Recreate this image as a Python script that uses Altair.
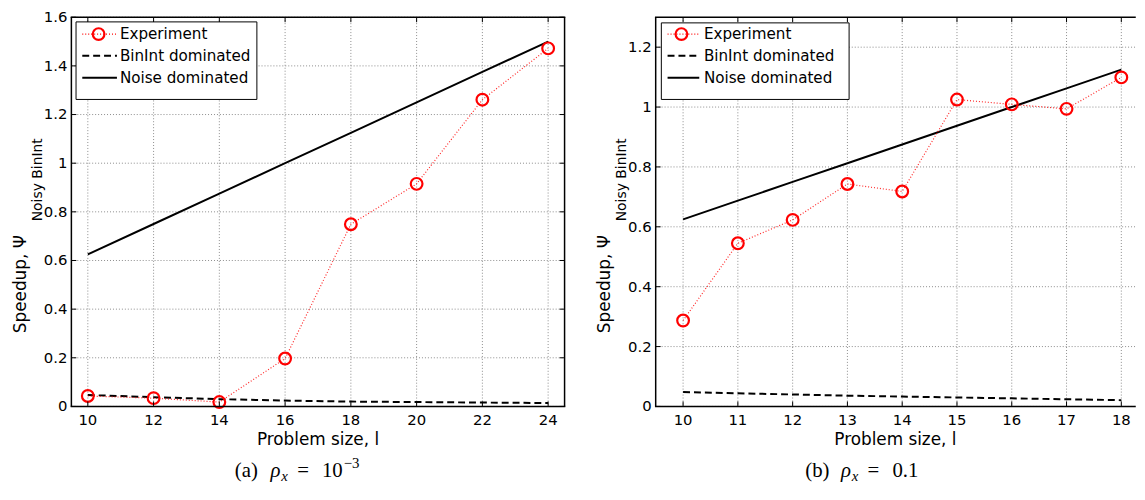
import altair as alt
import pandas as pd

FONT = "DejaVu Sans"
SERIF = "Liberation Serif"

# ---------------- data: panel (a) rho_x = 1e-3 ----------------
a_l = [10, 12, 14, 16, 18, 20, 22, 24]
a_exp = [0.043, 0.034, 0.018, 0.197, 0.749, 0.915, 1.261, 1.472]
a_binint = [0.047, 0.038, 0.030, 0.024, 0.020, 0.018, 0.016, 0.014]
a_noise = [0.625, 0.75, 0.875, 1.0, 1.125, 1.25, 1.375, 1.5]
a_xticks = [10, 12, 14, 16, 18, 20, 22, 24]
a_yticks = [0, 0.2, 0.4, 0.6, 0.8, 1.0, 1.2, 1.4, 1.6]

# ---------------- data: panel (b) rho_x = 0.1 ----------------
b_l = [10, 11, 12, 13, 14, 15, 16, 17, 18]
b_exp = [0.287, 0.545, 0.623, 0.743, 0.718, 1.025, 1.009, 0.994, 1.099]
b_binint = [0.048, 0.044, 0.040, 0.036, 0.033, 0.030, 0.027, 0.024, 0.021]
b_noise = [0.625, 0.6875, 0.75, 0.8125, 0.875, 0.9375, 1.0, 1.0625, 1.125]
b_xticks = [10, 11, 12, 13, 14, 15, 16, 17, 18]
b_yticks = [0, 0.2, 0.4, 0.6, 0.8, 1.0, 1.2]

legend_labels = ["Experiment", "BinInt dominated", "Noise dominated"]
x_title = "Problem size, l"
y_title_main = "Speedup, \u03a8"
y_title_sub = "Noisy BinInt"

dummy = pd.DataFrame({"d": [0]})
GRID_KW = dict(color="#8c8c8c", strokeWidth=1, strokeDash=[1, 2])


def txt(x, y, s, **kw):
    opts = dict(align="left", baseline="alphabetic", color="black")
    opts.update(kw)
    return alt.Chart(dummy).mark_text(**opts).encode(
        x=alt.value(x), y=alt.value(y), text=alt.value(s))


def hrule(x0, x1, y, **kw):
    return alt.Chart(dummy).mark_rule(**kw).encode(
        x=alt.value(x0), x2=alt.value(x1), y=alt.value(y))


def vrule(x, y0, y1, **kw):
    return alt.Chart(dummy).mark_rule(**kw).encode(
        x=alt.value(x), y=alt.value(y0), y2=alt.value(y1))


def panel(l, exp, binint, noise, xdom, ydom, xticks, yticks, W, H,
          leg, cap, right_border):
    df = pd.DataFrame({"l": l, "exp": exp, "binint": binint, "noise": noise})
    xs = alt.Scale(domain=xdom, nice=False, zero=False)
    ys = alt.Scale(domain=ydom, nice=False, zero=False)
    xt = pd.DataFrame({"t": xticks})
    yt = pd.DataFrame({"t": yticks})

    X = lambda f: alt.X(f, scale=xs, axis=None)
    Y = lambda f: alt.Y(f, scale=ys, axis=None)

    layers = []
    # dotted grid
    layers.append(alt.Chart(xt).mark_rule(**GRID_KW).encode(
        x=X("t:Q"), y=alt.value(0), y2=alt.value(H)))
    layers.append(alt.Chart(yt).mark_rule(**GRID_KW).encode(
        y=Y("t:Q"), x=alt.value(0), x2=alt.value(W)))

    # tick labels
    layers.append(alt.Chart(xt).mark_text(font=FONT, fontSize=15, color="black",
                                          align="center", baseline="top").encode(
        x=X("t:Q"), y=alt.value(H + 7), text=alt.Text("t:Q", format="~g")))
    layers.append(alt.Chart(yt).mark_text(font=FONT, fontSize=15, color="black",
                                          align="right", baseline="middle").encode(
        y=Y("t:Q"), x=alt.value(-4), text=alt.Text("t:Q", format="~g")))

    # series
    layers.append(alt.Chart(df).mark_line(color="black", strokeWidth=2).encode(
        x=X("l:Q"), y=Y("noise:Q")))
    layers.append(alt.Chart(df).mark_line(color="black", strokeWidth=2,
                                          strokeDash=[7, 4]).encode(
        x=X("l:Q"), y=Y("binint:Q")))
    layers.append(alt.Chart(df).mark_line(color="#ff0000", strokeWidth=1.2,
                                          strokeDash=[1, 2], opacity=0.85).encode(
        x=X("l:Q"), y=Y("exp:Q")))
    layers.append(alt.Chart(df).mark_point(shape="circle", filled=False,
                                           color="#ff0000", strokeWidth=2.2,
                                           size=140, opacity=1).encode(
        x=X("l:Q"), y=Y("exp:Q")))

    # inward ticks
    tick_kw = dict(color="black", strokeWidth=1)
    layers.append(alt.Chart(xt).mark_rule(**tick_kw).encode(
        x=X("t:Q"), y=alt.value(H), y2=alt.value(H - 5)))
    layers.append(alt.Chart(xt).mark_rule(**tick_kw).encode(
        x=X("t:Q"), y=alt.value(0), y2=alt.value(5)))
    layers.append(alt.Chart(yt).mark_rule(**tick_kw).encode(
        y=Y("t:Q"), x=alt.value(0), x2=alt.value(5)))
    if right_border:
        layers.append(alt.Chart(yt).mark_rule(**tick_kw).encode(
            y=Y("t:Q"), x=alt.value(W), x2=alt.value(W - 5)))

    # frame
    fr = dict(color="black", strokeWidth=1.5)
    layers.append(hrule(-0.75, W + 0.75, H, **fr))
    layers.append(hrule(-0.75, W + 0.75, 0, **fr))
    layers.append(vrule(0, 0, H, **fr))
    if right_border:
        layers.append(vrule(W, 0, H, **fr))

    # legend box
    bx0, bx1, by0, by1, lx0, lx1, cx, tx = leg
    ey = [17, 39, 61]
    layers.append(alt.Chart(dummy).mark_rect(fill="white", stroke="black",
                                             strokeWidth=1).encode(
        x=alt.value(bx0), x2=alt.value(bx1), y=alt.value(by0), y2=alt.value(by1)))
    layers.append(hrule(lx0, lx1, ey[0], color="#ff0000", strokeWidth=1.2,
                        strokeDash=[1, 2]))
    layers.append(alt.Chart(dummy).mark_point(shape="circle", filled=False,
                                              color="#ff0000", strokeWidth=2.2,
                                              size=140, opacity=1).encode(
        x=alt.value(cx), y=alt.value(ey[0])))
    layers.append(hrule(lx0, lx1, ey[1], color="black", strokeWidth=2,
                        strokeDash=[7, 4]))
    layers.append(hrule(lx0, lx1, ey[2], color="black", strokeWidth=2))
    for lab, yy in zip(legend_labels, ey):
        layers.append(txt(tx, yy, lab, baseline="middle", font=FONT, fontSize=15.3))

    # axis titles
    layers.append(txt(W / 2, H + 26, x_title, align="center", baseline="top",
                      font=FONT, fontSize=17))
    layers.append(txt(-46, 319, y_title_main, angle=270, font=FONT, fontSize=17))
    layers.append(txt(-30, 206, y_title_sub, angle=270, font=FONT, fontSize=14))

    # caption
    for (dx, dy, s, size, style) in cap:
        kw = dict(font=SERIF, fontSize=size)
        if style:
            kw["fontStyle"] = style
        layers.append(txt(dx, 464 + dy, s, **kw))

    return alt.layer(*layers).properties(width=W, height=H)


H = 393
cap_a_x0 = 165
cap_a = [
    (cap_a_x0, 0, "(a)", 21, None),
    (cap_a_x0 + 36, 0, "\u03c1", 21, "italic"),
    (cap_a_x0 + 47, 4, "x", 15, "italic"),
    (cap_a_x0 + 63, 0, "=", 21, None),
    (cap_a_x0 + 88, 0, "10", 21, None),
    (cap_a_x0 + 110, -9, "\u22123", 15, None),
]
cap_b_x0 = 151
cap_b = [
    (cap_b_x0, 0, "(b)", 21, None),
    (cap_b_x0 + 36, 0, "\u03c1", 21, "italic"),
    (cap_b_x0 + 47, 4, "x", 15, "italic"),
    (cap_b_x0 + 63, 0, "=", 21, None),
    (cap_b_x0 + 88, 0, "0.1", 21, None),
]

left = panel(a_l, a_exp, a_binint, a_noise, [9.5, 24.5], [0, 1.6],
             a_xticks, a_yticks, 498, H,
             (4.7, 187.3, 4.7, 83, 11, 46, 27.5, 49), cap_a, True)
right = panel(b_l, b_exp, b_binint, b_noise, [9.5, 18.25], [0, 1.3],
              b_xticks, b_yticks, 484, H,
              (5.7, 195.3, 5.7, 83, 12, 44, 26, 48.7), cap_b, False)

chart = alt.hconcat(left, right, spacing=30).properties(
    padding={"left": 4, "top": 0, "right": 0, "bottom": 0}
).configure_view(stroke=None)

chart.save("out.html", embed_options={"renderer": "svg", "actions": False})
